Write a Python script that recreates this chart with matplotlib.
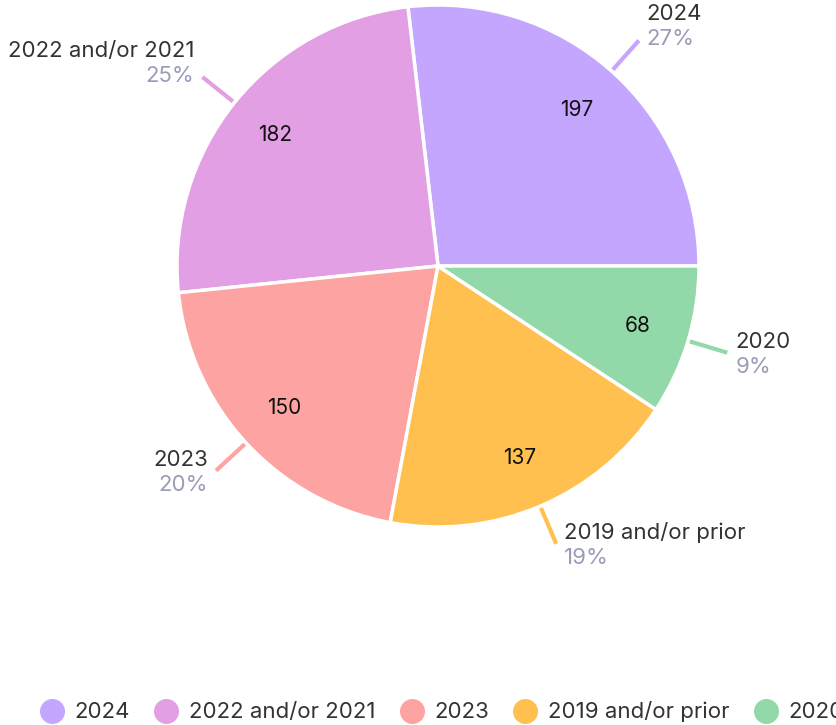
import numpy as np
import matplotlib.pyplot as plt
from matplotlib.lines import Line2D

plt.rcParams['font.family'] = ['Inter', 'DejaVu Sans']

# データ
labels = ["2024", "2022 and/or 2021", "2023", "2019 and/or prior", "2020"]
counts = [197, 182, 150, 137, 68]
colors = ["#c5a6fe", "#e39fe3", "#fda3a2", "#ffc04f", "#93d8a9"]

dark = "#333333"
grey = "#9a9cb8"

W, H = 837, 725
fig = plt.figure(figsize=(W / 100, H / 100), dpi=100)
ax = fig.add_axes([0, 0, 1, 1])

cx, cy, R = 438, H - 266, 261

wedges, _, autotexts = ax.pie(
    counts, colors=colors, startangle=0, counterclock=True,
    center=(cx, cy), radius=R, autopct=lambda p: f"{p * sum(counts) / 100:.0f}",
    pctdistance=0.8, frame=True,
    wedgeprops=dict(edgecolor="white", linewidth=2.5),
    textprops=dict(fontsize=15, color="#111111"))
ax.set_xlim(0, W)
ax.set_ylim(0, H)
ax.set_aspect('equal')
ax.axis('off')

total = sum(counts)
for w, lab, c, n in zip(wedges, labels, colors, counts):
    mid = np.deg2rad((w.theta1 + w.theta2) / 2)
    r0, r1 = R + 2, R + 41
    x0, y0 = cx + r0 * np.cos(mid), cy + r0 * np.sin(mid)
    x1, y1 = cx + r1 * np.cos(mid), cy + r1 * np.sin(mid)
    ax.plot([x0, x1], [y0, y1], color=c, lw=3, solid_capstyle='butt')
    right = np.cos(mid) >= 0
    tx = x1 + 8 if right else x1 - 8
    ha = 'left' if right else 'right'
    if np.sin(mid) > 0:
        ny, py = y1 + 26, y1 + 1
    else:
        ny, py = y1 + 11, y1 - 14
    ax.text(tx, ny, lab, ha=ha, va='center', fontsize=16, color=dark)
    ax.text(tx, py, f"{n / total * 100:.0f}%", ha=ha, va='center', fontsize=16, color=grey)

handles = [Line2D([], [], marker='o', ls='', markersize=17, markerfacecolor=c,
                  markeredgecolor=c) for c in colors]
fig.legend(handles, labels, loc='center left', bbox_to_anchor=(0.037, 13 / H),
           ncol=5, frameon=False, fontsize=16, labelcolor=dark,
           handletextpad=0.45, columnspacing=1.1, handlelength=1.1,
           borderaxespad=0)

fig.savefig("out.png", dpi=100)
